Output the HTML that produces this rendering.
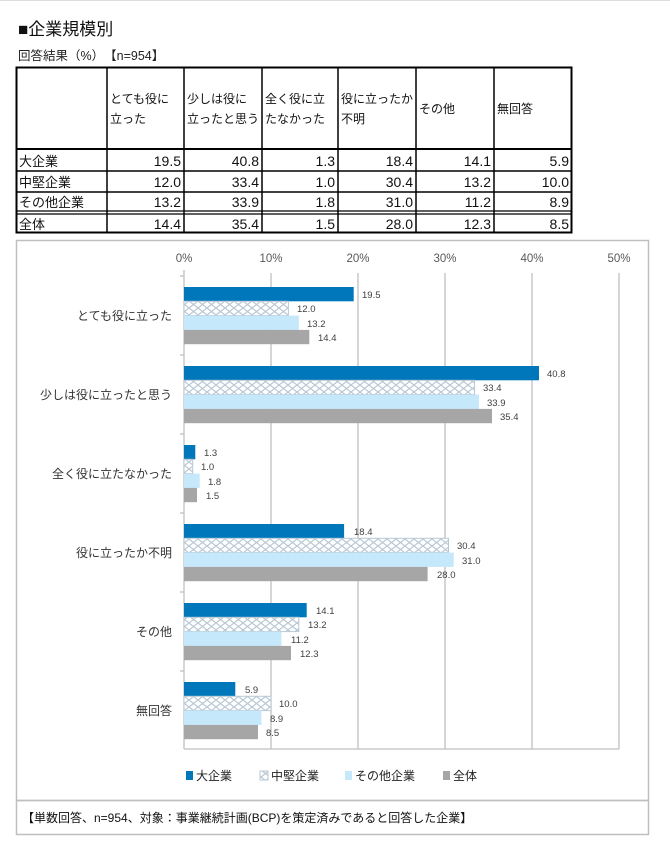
<!DOCTYPE html>
<html><head><meta charset="utf-8"><style>
body{margin:0;background:#fff;}
svg{display:block;font-family:"Liberation Sans","Noto Sans CJK JP",sans-serif;}
</style></head><body>
<svg width="670" height="845" viewBox="0 0 670 845" xmlns="http://www.w3.org/2000/svg">
<defs>
<pattern id="h" width="9" height="7" patternUnits="userSpaceOnUse">
<rect width="9" height="7" fill="#fff"/>
<path d="M0,0 L9,7 M9,0 L0,7" stroke="#b8c8d4" stroke-width="1.2"/>
</pattern>
</defs>
<rect x="0" y="0" width="670" height="845" fill="#fff"/>
<line x1="0" y1="0.5" x2="670" y2="0.5" stroke="#ddd"/>
<text x="18" y="35" font-size="17" fill="#111">■企業規模別</text>
<text x="18" y="60" font-size="12.5" fill="#222">回答結果（%）　【n=954】</text>
<g stroke="#000" fill="none">
<rect x="16.5" y="67.5" width="555" height="165" stroke-width="2"/>
<line x1="107" y1="67" x2="107" y2="233" stroke-width="1.5"/>
<line x1="184" y1="67" x2="184" y2="233" stroke-width="1.5"/>
<line x1="262" y1="67" x2="262" y2="233" stroke-width="1.5"/>
<line x1="338" y1="67" x2="338" y2="233" stroke-width="1.5"/>
<line x1="416" y1="67" x2="416" y2="233" stroke-width="1.5"/>
<line x1="494" y1="67" x2="494" y2="233" stroke-width="1.5"/>
<line x1="16" y1="149" x2="572" y2="149" stroke-width="2"/>
<line x1="16" y1="171" x2="572" y2="171" stroke-width="1.5"/>
<line x1="16" y1="192" x2="572" y2="192" stroke-width="1.5"/>
<line x1="16" y1="211" x2="572" y2="211" stroke-width="1.3"/>
<line x1="16" y1="214" x2="572" y2="214" stroke-width="1.3"/>
</g>
<g font-size="12" fill="#111">
<text x="110" y="103">とても役に</text><text x="110" y="123">立った</text>
<text x="187" y="103">少しは役に</text><text x="187" y="123">立ったと思う</text>
<text x="265" y="103">全く役に立</text><text x="265" y="123">たなかった</text>
<text x="341" y="103">役に立ったか</text><text x="341" y="123">不明</text>
<text x="419" y="113">その他</text>
<text x="497" y="113">無回答</text>
</g>
<g font-size="13" fill="#111">
<text x="19" y="166">大企業</text><text x="19" y="187">中堅企業</text><text x="19" y="207">その他企業</text><text x="19" y="229">全体</text>
</g>
<g font-size="14" fill="#111" text-anchor="end">
<text x="181" y="166">19.5</text><text x="259" y="166">40.8</text><text x="335" y="166">1.3</text><text x="413" y="166">18.4</text><text x="491" y="166">14.1</text><text x="569" y="166">5.9</text>
<text x="181" y="187">12.0</text><text x="259" y="187">33.4</text><text x="335" y="187">1.0</text><text x="413" y="187">30.4</text><text x="491" y="187">13.2</text><text x="569" y="187">10.0</text>
<text x="181" y="207">13.2</text><text x="259" y="207">33.9</text><text x="335" y="207">1.8</text><text x="413" y="207">31.0</text><text x="491" y="207">11.2</text><text x="569" y="207">8.9</text>
<text x="181" y="229">14.4</text><text x="259" y="229">35.4</text><text x="335" y="229">1.5</text><text x="413" y="229">28.0</text><text x="491" y="229">12.3</text><text x="569" y="229">8.5</text>
</g>
<rect x="16.5" y="240.5" width="632" height="560" fill="none" stroke="#bfbfbf" stroke-width="1.5"/>
<rect x="16.5" y="800.5" width="632" height="34" fill="none" stroke="#bfbfbf" stroke-width="1.5"/>
<text x="22" y="822" font-size="12" fill="#111">【単数回答、n=954、対象：事業継続計画(BCP)を策定済みであると回答した企業】</text>
<g stroke="#bfbfbf" stroke-width="1.3">
<line x1="271" y1="273" x2="271" y2="749"/><line x1="358" y1="273" x2="358" y2="749"/>
<line x1="445" y1="273" x2="445" y2="749"/><line x1="532" y1="273" x2="532" y2="749"/>
<line x1="619" y1="273" x2="619" y2="749"/>
<line x1="184" y1="749" x2="619" y2="749"/>
<line x1="184" y1="270" x2="184" y2="749"/>
<line x1="180" y1="276" x2="184" y2="276"/><line x1="180" y1="355" x2="184" y2="355"/><line x1="180" y1="434" x2="184" y2="434"/><line x1="180" y1="513" x2="184" y2="513"/><line x1="180" y1="592" x2="184" y2="592"/><line x1="180" y1="671" x2="184" y2="671"/>
</g>
<g font-size="11.5" fill="#595959" text-anchor="middle">
<text x="184" y="262">0%</text><text x="271" y="262">10%</text><text x="358" y="262">20%</text><text x="445" y="262">30%</text><text x="532" y="262">40%</text><text x="619" y="262">50%</text>
</g>
<g font-size="12" fill="#333" text-anchor="end">
<text x="172" y="320">とても役に立った</text>
<text x="172" y="399">少しは役に立ったと思う</text>
<text x="172" y="478">全く役に立たなかった</text>
<text x="172" y="557">役に立ったか不明</text>
<text x="172" y="636">その他</text>
<text x="172" y="715">無回答</text>
</g>
<rect x="186" y="771" width="7" height="9" fill="#0077bb"/><text x="196" y="780" font-size="12" fill="#222">大企業</text>
<rect x="260" y="771" width="8" height="9" fill="url(#h)" stroke="#b8c8d4"/><text x="271" y="780" font-size="12" fill="#222">中堅企業</text>
<rect x="345" y="771" width="7" height="9" fill="#c5e8fb"/><text x="355" y="780" font-size="12" fill="#222">その他企業</text>
<rect x="443" y="771" width="7" height="9" fill="#a6a6a6"/><text x="453" y="780" font-size="12" fill="#222">全体</text>
<g>
<rect x="184" y="287" width="169.7" height="14.3" fill="#0077bb"/>
<rect x="184" y="301.3" width="104.4" height="14.3" fill="url(#h)" stroke="#b8c8d4"/>
<rect x="184" y="315.6" width="114.8" height="14.3" fill="#c5e8fb"/>
<rect x="184" y="329.9" width="125.3" height="14.3" fill="#a6a6a6"/>
<rect x="184" y="366" width="355" height="14.3" fill="#0077bb"/>
<rect x="184" y="380.3" width="290.6" height="14.3" fill="url(#h)" stroke="#b8c8d4"/>
<rect x="184" y="394.6" width="294.9" height="14.3" fill="#c5e8fb"/>
<rect x="184" y="408.9" width="308" height="14.3" fill="#a6a6a6"/>
<rect x="184" y="445" width="11.3" height="14.3" fill="#0077bb"/>
<rect x="184" y="459.3" width="8.7" height="14.3" fill="url(#h)" stroke="#b8c8d4"/>
<rect x="184" y="473.6" width="15.7" height="14.3" fill="#c5e8fb"/>
<rect x="184" y="487.9" width="13" height="14.3" fill="#a6a6a6"/>
<rect x="184" y="524" width="160.1" height="14.3" fill="#0077bb"/>
<rect x="184" y="538.3" width="264.5" height="14.3" fill="url(#h)" stroke="#b8c8d4"/>
<rect x="184" y="552.6" width="269.7" height="14.3" fill="#c5e8fb"/>
<rect x="184" y="566.9" width="243.6" height="14.3" fill="#a6a6a6"/>
<rect x="184" y="603" width="122.7" height="14.3" fill="#0077bb"/>
<rect x="184" y="617.3" width="114.8" height="14.3" fill="url(#h)" stroke="#b8c8d4"/>
<rect x="184" y="631.6" width="97.4" height="14.3" fill="#c5e8fb"/>
<rect x="184" y="645.9" width="107" height="14.3" fill="#a6a6a6"/>
<rect x="184" y="682" width="51.3" height="14.3" fill="#0077bb"/>
<rect x="184" y="696.3" width="87" height="14.3" fill="url(#h)" stroke="#b8c8d4"/>
<rect x="184" y="710.6" width="77.4" height="14.3" fill="#c5e8fb"/>
<rect x="184" y="724.9" width="74" height="14.3" fill="#a6a6a6"/>
</g>
<g font-size="9.5" fill="#404040">
<text x="362" y="298">19.5</text><text x="297" y="312">12.0</text><text x="307" y="327">13.2</text><text x="318" y="341">14.4</text>
<text x="547" y="377">40.8</text><text x="483" y="391">33.4</text><text x="487" y="406">33.9</text><text x="500" y="420">35.4</text>
<text x="204" y="456">1.3</text><text x="201" y="470">1.0</text><text x="208" y="485">1.8</text><text x="206" y="499">1.5</text>
<text x="354" y="535">18.4</text><text x="457" y="549">30.4</text><text x="462" y="564">31.0</text><text x="437" y="578">28.0</text>
<text x="316" y="614">14.1</text><text x="308" y="628">13.2</text><text x="291" y="643">11.2</text><text x="300" y="657">12.3</text>
<text x="245" y="693">5.9</text><text x="279" y="707">10.0</text><text x="270" y="722">8.9</text><text x="266" y="736">8.5</text>
</g>
</svg>
</body></html>
